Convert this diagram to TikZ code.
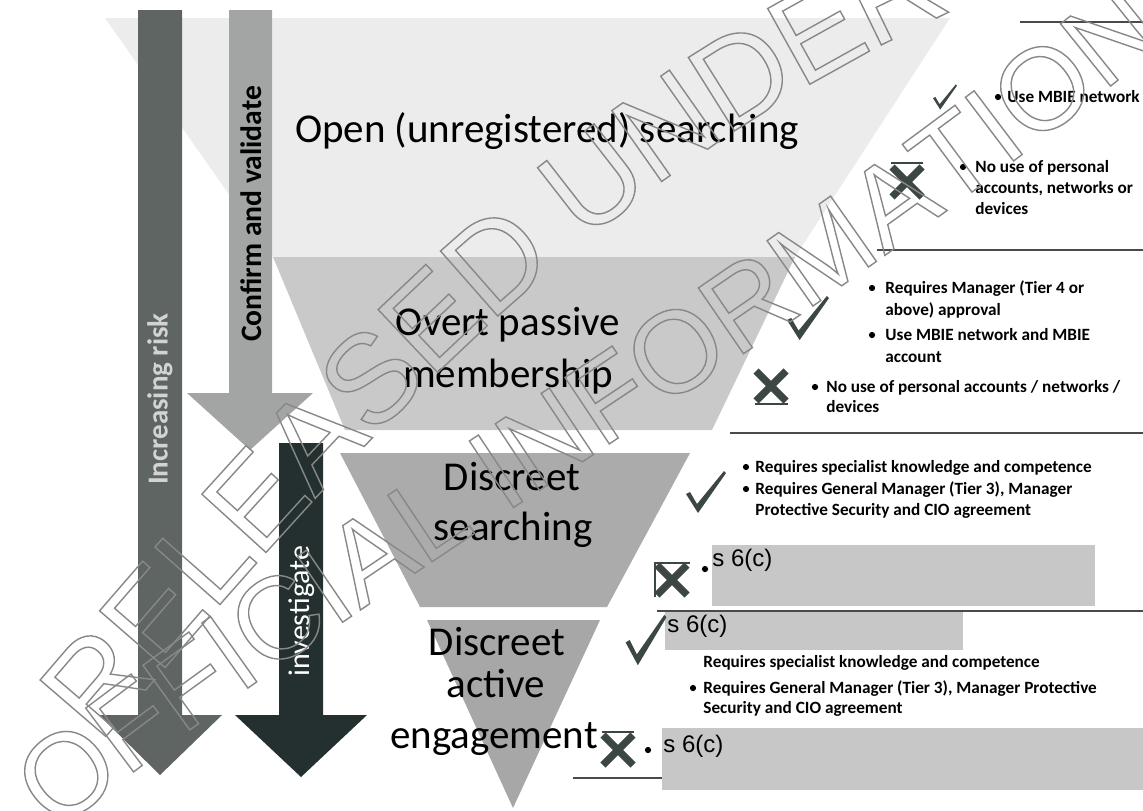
\documentclass[tikz,border=0pt]{standalone}
\usepackage{fontspec}
\setmainfont{Carlito}
\newfontfamily\arialfam{Liberation Sans}
\usetikzlibrary{decorations.text}

\definecolor{bandA}{HTML}{ECECEC}
\definecolor{bandB}{HTML}{C9C9C9}
\definecolor{bandC}{HTML}{ABABAB}
\definecolor{bandD}{HTML}{A7A7A7}
\definecolor{riskgray}{HTML}{5E6563}
\definecolor{risktext}{HTML}{D2D4D3}
\definecolor{confgray}{HTML}{A2A5A4}
\definecolor{invgray}{HTML}{243030}
\definecolor{markgray}{HTML}{3C4643}
\definecolor{redact}{HTML}{C7C7C7}
\definecolor{rulegray}{HTML}{4A4A4A}
\definecolor{stampgray}{HTML}{888888}

% hollow letters for the stamp (stroke-only text rendering)
\newcommand\stampfont[1]{\arialfam\fontsize{#1}{#1}\selectfont\color{stampgray}%
  \special{pdf:literal direct 1 Tr 0.7 w}}

\tikzset{
  okmark/.pic={\fill[markgray] (-20,2) -- (-16,0) -- (-9,12) -- (18,-21) -- (20,-19) -- (-8,21) -- cycle;},
  nomark/.pic={\draw[markgray,line width=3.6pt] (-15,-15) -- (15,15) (-15,15) -- (15,-15);}
}

\begin{document}
\begin{tikzpicture}[x=0.5pt,y=-0.5pt,
    stage/.style={font=\fontsize{20.5}{24}\selectfont, anchor=base, inner sep=0pt},
    note/.style={font=\fontsize{8.6}{10}\selectfont\bfseries, anchor=base west, inner sep=0pt},
    bul/.style={circle, fill, inner sep=1.1pt},
    sec/.style={font=\arialfam\fontsize{12}{14}\selectfont, anchor=base west, inner sep=0pt},
    redbox/.style={fill=redact},
    sepline/.style={rulegray, line width=1pt},
    mline/.style={markgray, line width=0.6pt},
    barlabel/.style={rotate=90, inner sep=0pt}]

    \useasboundingbox (0,0) rectangle (1143,810);
    \clip (0,0) rectangle (1143,810);

    \fill[bandA] (105,18) -- (950,18) -- (795,257) -- (273,257) -- cycle;
    \fill[bandB] (273,257) -- (795,257) -- (712,430) -- (345,430) -- cycle;
    \fill[bandC] (340,453) -- (690,453) -- (607,607) -- (420,607) -- cycle;
    \fill[bandD] (427,620) -- (600,620) -- (513,808) -- cycle;

    \fill[riskgray] (138,10) -- (182,10) -- (182,715) -- (222,715) -- (160,775) -- (99,715) -- (138,715) -- cycle;
    \fill[confgray] (229,10) -- (272,10) -- (272,393) -- (313,393) -- (250,450) -- (187,393) -- (229,393) -- cycle;
    \fill[invgray] (279,443) -- (323,443) -- (323,715) -- (367,715) -- (301,777) -- (235,715) -- (279,715) -- cycle;

    \node[barlabel, font=\bfseries\fontsize{14.5}{17}\selectfont, text=risktext] (risk) at (160,399) {Increasing risk};
    \node[barlabel, font=\bfseries\fontsize{14.8}{17}\selectfont] (confirm) at (251,214) {Confirm and validate};
    \node[barlabel, font=\fontsize{15}{17}\selectfont, text=white] (invest) at (302,611) {investigate};

    \node[stage] (open) at (547,142) {Open (unregistered) searching};
    \node[stage] (overt1) at (508,335) {Overt passive};
    \node[stage] (overt2) at (508,387) {membership};
    \node[stage] (disc1) at (512,490) {Discreet};
    \node[stage] (disc2) at (513,540) {searching};
    \node[stage] (act1) at (497,655) {Discreet};
    \node[stage] (act2) at (496,697) {active};
    \node[stage] (act3) at (494,748) {engagement};

    \draw[sepline] (1020,22) -- (1143,22);
    \draw[sepline] (877,250) -- (1143,250);
    \draw[sepline] (730,433) -- (1143,433);
    \draw[sepline] (657,611) -- (1143,611);
    \draw[sepline] (573,778) -- (662,778);

    \pic[scale=0.6] at (945,97) {okmark};
    \node[bul] (b1a) at (998,97) {};
    \node[note] (t1a) at (1007,102) {Use MBIE network};
    \pic at (907,182) {nomark};
    \draw[mline] (891,163) -- (923,163);
    \node[bul] (b1b) at (963,167) {};
    \node[note] (t1b) at (975,172) {No use of personal};
    \node[note] (t1c) at (975,193) {accounts, networks or};
    \node[note] (t1d) at (975,214) {devices};

    \pic[scale=1.05] at (808,318) {okmark};
    \node[bul] (b2a) at (872,288) {};
    \node[note] (t2a) at (885,293) {Requires Manager (Tier 4 or};
    \node[note] (t2b) at (885,315) {above) approval};
    \node[bul] (b2c) at (872,335) {};
    \node[note] (t2c) at (885,340) {Use MBIE network and MBIE};
    \node[note] (t2d) at (885,362) {account};
    \pic at (771,386) {nomark};
    \draw[mline] (755,404) -- (788,404);
    \node[bul] (b2e) at (815,387) {};
    \node[note] (t2e) at (826,392) {No use of personal accounts / networks /};
    \node[note] (t2f) at (826,412) {devices};

    \pic at (706,492) {okmark};
    \node[bul] (b3a) at (746,467) {};
    \node[note] (t3a) at (755,472) {Requires specialist knowledge and competence};
    \node[bul] (b3b) at (746,489) {};
    \node[note] (t3b) at (755,494) {Requires General Manager (Tier 3), Manager};
    \node[note] (t3c) at (755,515) {Protective Security and CIO agreement};
    \fill[redbox] (712,545) rectangle (1095,606);
    \pic at (672,580) {nomark};
    \draw[mline] (655,597) -- (655,563) -- (690,563);
    \node[bul] (b3d) at (705,569) {};
    \node[sec] (s3) at (712,566) {s 6(c)};

    \fill[redbox] (665,612) rectangle (963,650);
    \pic[scale=1.2,xscale=0.85] at (646,640) {okmark};
    \node[sec] (s4a) at (667,632) {s 6(c)};
    \node[note] (t4a) at (703,667) {Requires specialist knowledge and competence};
    \node[bul] (b4b) at (693,688) {};
    \node[note] (t4b) at (703,693) {Requires General Manager (Tier 3), Manager Protective};
    \node[note] (t4c) at (703,713) {Security and CIO agreement};
    \fill[redbox] (662,728) rectangle (1143,790);
    \pic at (618,750) {nomark};
    \draw[mline] (602,732) -- (634,732);
    \node[bul] (b4d) at (648,750) {};
    \node[sec] (s4b) at (663,752) {s 6(c)};

    \path[decorate, decoration={text along path, text align=left, raise=-22.5pt,
        text={|\stampfont{63}|RELEASED UNDER}}]
        (65,715) .. controls (310,430) and (570,120) .. (980,-50);
    \path[decorate, decoration={text along path, text align=left, raise=-21pt,
        text={|\stampfont{58}|OFFICIAL INFORMATION}}]
        (30,800) .. controls (350,540) and (750,330) .. (1150,0);
\end{tikzpicture}
\end{document}
